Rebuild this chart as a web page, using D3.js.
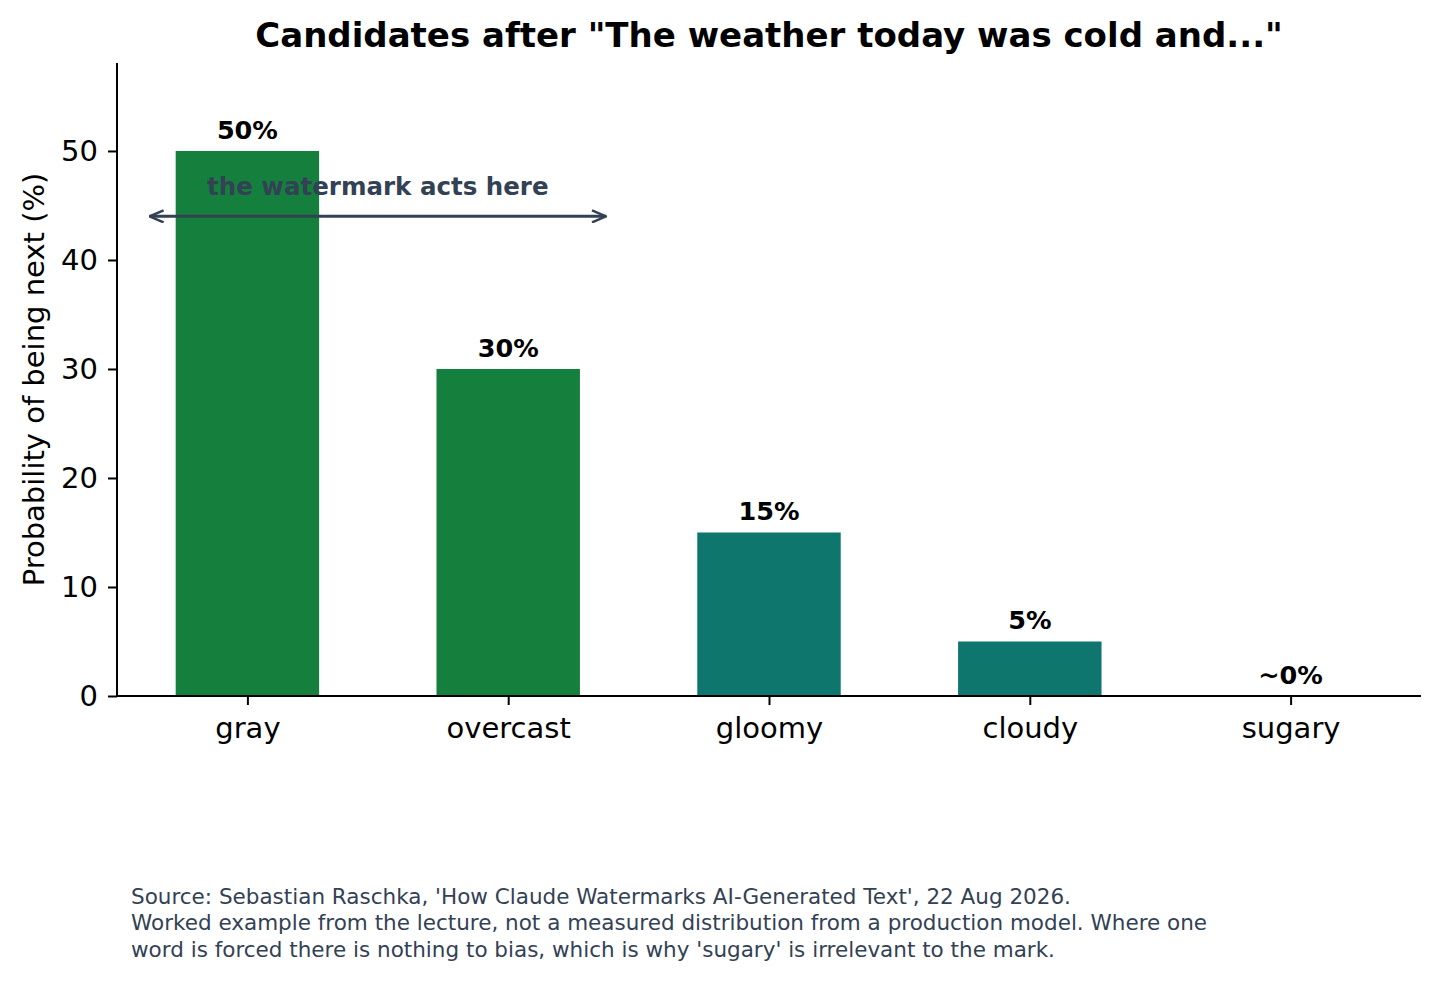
<!DOCTYPE html>
<html>
<head>
<meta charset="utf-8">
<script src="https://cdn.jsdelivr.net/npm/d3@7"></script>
<style>
  body { margin: 0; background: #fff; }
  svg text { font-family: "DejaVu Sans", sans-serif; }
</style>
</head>
<body>
<svg id="chart" width="1440" height="985"></svg>
<script>
// ── Data ──────────────────────────────────────────────────
const words  = ['gray', 'overcast', 'gloomy', 'cloudy', 'sugary'];
const probs  = [50, 30, 15, 5, 0];
const labels = ['50%', '30%', '15%', '5%', '~0%'];
const groups = ['top', 'top', 'tail', 'tail', 'tail'];
const yTicks = [0, 10, 20, 30, 40, 50];
const arrowSpan = [-0.375, 1.375];   // in category units
const arrowY = 44;

const COLORS = { top: '#15803d', tail: '#0f766e' };
const SLATE = '#334155';

// ── Layout ────────────────────────────────────────────────
const M = { left: 117, right: 1421, top: 63, bottom: 696 };
const svg = d3.select('#chart');

// continuous x so the arrow can sit between categories
const x = d3.scaleLinear().domain([-0.5, 4.5]).range([M.left, M.right]);
const y = d3.scaleLinear().domain([0, 58.07]).range([M.bottom, M.top]);
const barW = x(0.55) - x(0);

// ── Bars ──────────────────────────────────────────────────
svg.selectAll('.bar')
  .data(words)
  .enter().append('rect')
  .attr('x', (d, i) => x(i) - barW / 2)
  .attr('y', (d, i) => y(probs[i]))
  .attr('width', barW)
  .attr('height', (d, i) => y(0) - y(probs[i]))
  .attr('fill', (d, i) => COLORS[groups[i]]);

// value labels
svg.selectAll('.val')
  .data(words)
  .enter().append('text')
  .attr('x', (d, i) => x(i))
  .attr('y', (d, i) => y(probs[i]) - 12)
  .attr('text-anchor', 'middle')
  .attr('font-size', 25.5)
  .attr('font-weight', 'bold')
  .text((d, i) => labels[i]);

// ── Axes ──────────────────────────────────────────────────
const xAxis = d3.axisBottom(x)
  .tickValues(d3.range(words.length))
  .tickFormat(i => words[i])
  .tickSize(9).tickPadding(12);
const gx = svg.append('g').attr('transform', `translate(0,${M.bottom})`).call(xAxis);
gx.select('.domain').attr('d', `M${M.left},0H${M.right}`).attr('stroke-width', 2);

const yAxis = d3.axisLeft(y).tickValues(yTicks).tickSize(9).tickPadding(10);
const gy = svg.append('g').attr('transform', `translate(${M.left},0)`).call(yAxis);
gy.select('.domain').attr('d', `M0,${M.top}V${M.bottom}`).attr('stroke-width', 2);

svg.selectAll('.tick line').attr('stroke-width', 2);
svg.selectAll('.tick text').attr('font-size', 29).attr('fill', '#000')
  .attr('font-family', '"DejaVu Sans", sans-serif');

// y label
svg.append('text')
  .attr('transform', `translate(44,${(M.top + M.bottom) / 2}) rotate(-90)`)
  .attr('text-anchor', 'middle')
  .attr('font-size', 29)
  .text('Probability of being next (%)');

// ── Annotation arrow ──────────────────────────────────────
const defs = svg.append('defs');
defs.append('marker')
  .attr('id', 'head').attr('viewBox', '0 0 16 14')
  .attr('refX', 15).attr('refY', 7)
  .attr('markerWidth', 16).attr('markerHeight', 14)
  .attr('markerUnits', 'userSpaceOnUse')
  .attr('orient', 'auto-start-reverse')
  .append('path')
  .attr('d', 'M1,1 L15,7 L1,13')
  .attr('fill', 'none').attr('stroke', SLATE).attr('stroke-width', 2.5);

svg.append('line')
  .attr('x1', x(arrowSpan[0])).attr('x2', x(arrowSpan[1]))
  .attr('y1', y(arrowY)).attr('y2', y(arrowY))
  .attr('stroke', SLATE).attr('stroke-width', 3)
  .attr('marker-start', 'url(#head)').attr('marker-end', 'url(#head)');

svg.append('text')
  .attr('x', x((arrowSpan[0] + arrowSpan[1]) / 2))
  .attr('y', y(arrowY) - 21)
  .attr('text-anchor', 'middle')
  .attr('font-size', 24.5).attr('font-weight', 'bold')
  .attr('fill', SLATE)
  .text('the watermark acts here');

// ── Title ─────────────────────────────────────────────────
svg.append('text')
  .attr('x', (M.left + M.right) / 2).attr('y', 47)
  .attr('text-anchor', 'middle')
  .attr('font-size', 34).attr('font-weight', 'bold')
  .text('Candidates after "The weather today was cold and..."');

// ── Footnote ──────────────────────────────────────────────
const notes = [
  "Source: Sebastian Raschka, 'How Claude Watermarks AI-Generated Text', 22 Aug 2026.",
  "Worked example from the lecture, not a measured distribution from a production model. Where one",
  "word is forced there is nothing to bias, which is why 'sugary' is irrelevant to the mark."
];
svg.append('g').selectAll('text')
  .data(notes)
  .enter().append('text')
  .attr('x', 131)
  .attr('y', (d, i) => 904 + i * 26.3)
  .attr('font-size', 21.5)
  .attr('fill', SLATE)
  .text(d => d);
</script>
</body>
</html>
